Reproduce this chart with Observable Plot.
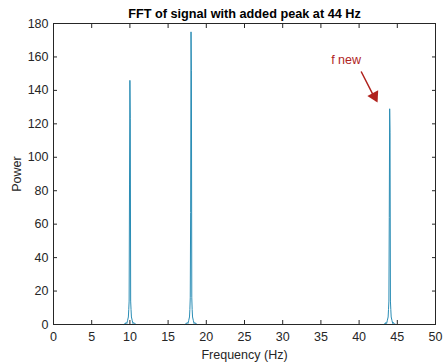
<!DOCTYPE html>
<html>
<head>
<meta charset="utf-8">
<script src="https://cdn.jsdelivr.net/npm/d3@7"></script>
<script src="https://cdn.jsdelivr.net/npm/@observablehq/plot@0.6"></script>
<style>
  html, body { margin: 0; padding: 0; background: #fff; }
  svg { display: block; }
</style>
</head>
<body>
<div id="chart"></div>
<script>
// Spectrum samples (Hz, power)
const freq = [
  0, 9.2, 9.3, 9.4, 9.5, 9.6, 9.7, 9.8, 9.85, 9.9, 9.95, 10.0, 10.05, 10.1, 10.15, 10.2, 10.3, 10.4, 10.5, 10.6, 10.7, 10.8,
  17.2, 17.3, 17.4, 17.5, 17.6, 17.7, 17.8, 17.85, 17.9, 17.95, 18.0, 18.05, 18.1, 18.15, 18.2, 18.3, 18.4, 18.5, 18.6, 18.7, 18.8,
  43.2, 43.3, 43.4, 43.5, 43.6, 43.7, 43.8, 43.85, 43.9, 43.95, 44.0, 44.05, 44.1, 44.15, 44.2, 44.3, 44.4, 44.5, 44.6, 44.7, 44.8,
  50
];
const power = [
  0, 0, 0.4, 0.2, 1.2, 0.6, 2.5, 4.5, 9, 14, 84, 146, 123, 14, 9, 4.5, 2.5, 0.6, 1.2, 0.2, 0.4, 0,
  0, 0.4, 0.2, 1.2, 0.6, 2.5, 4.5, 9, 16, 67, 175, 152, 16, 9, 4.5, 2.5, 0.6, 1.2, 0.2, 0.4, 0,
  0, 0.4, 0.2, 1.2, 0.6, 2.5, 4.5, 9, 14, 64, 129, 115, 14, 9, 4.5, 2.5, 0.6, 1.2, 0.2, 0.4, 0,
  0
];
const xTicks = [0, 5, 10, 15, 20, 25, 30, 35, 40, 45, 50];
const yTicks = [0, 20, 40, 60, 80, 100, 120, 140, 160, 180];
const titleText = "FFT of signal with added peak at 44 Hz";
const xLabel = "Frequency (Hz)";
const yLabel = "Power";
const annoText = ["f new"];
const annoTextX = [38.3];
const annoTextY = [158];
const arrowFrom = [[40.3, 151]];
const arrowTo = [[42.2, 134]];
const arrowTip = [[42.0, 136.5]];

const data = freq.map((f, i) => ({f, p: power[i]}));
const axisColor = "#262626";
const lineColor = "#2a8db5";
const red = "#b0231e";

const chart = Plot.plot({
  width: 443,
  height: 364,
  marginLeft: 53,
  marginRight: 8,
  marginTop: 23,
  marginBottom: 40,
  style: {fontFamily: "Liberation Sans, Arial, sans-serif", fontSize: "12px", color: axisColor, background: "#fff"},
  x: {domain: [0, 50]},
  y: {domain: [0, 180]},
  marks: [
    Plot.line(data, {x: "f", y: "p", stroke: lineColor, strokeWidth: 1}),
    Plot.frame({stroke: axisColor, strokeWidth: 1}),
    Plot.axisX({anchor: "bottom", ticks: xTicks, tickSize: -4, tickPadding: 12, label: xLabel, labelAnchor: "center", labelArrow: "none", labelOffset: 34, fontSize: 12.5, stroke: axisColor}),
    Plot.axisX({anchor: "top", ticks: xTicks, tickSize: -4, tickFormat: () => "", label: null, stroke: axisColor}),
    Plot.axisY({anchor: "left", ticks: yTicks, tickSize: -4, tickPadding: 9, label: yLabel, labelAnchor: "center", labelArrow: "none", labelOffset: 41, fontSize: 12.5, stroke: axisColor}),
    Plot.axisY({anchor: "right", ticks: yTicks, tickSize: -4, tickFormat: () => "", label: null, stroke: axisColor}),
    Plot.text([titleText], {frameAnchor: "top", dy: -15, text: d => d, fontWeight: "bold", fontSize: 12.7, fill: "#000"}),
    Plot.arrow(arrowFrom, {x1: d => d[0], y1: d => d[1], x2: (d, i) => arrowTo[i][0], y2: (d, i) => arrowTo[i][1], stroke: red, strokeWidth: 1.5, headLength: 0}),
    Plot.dot(arrowTip, {x: d => d[0], y: d => d[1], symbol: "triangle", r: 4.5, fill: red, stroke: "none", rotate: 153}),
    Plot.text(annoText, {x: (d, i) => annoTextX[i], y: (d, i) => annoTextY[i], text: d => d, fill: red, fontSize: 12.5})
  ]
});
document.getElementById("chart").appendChild(chart);
</script>
</body>
</html>
